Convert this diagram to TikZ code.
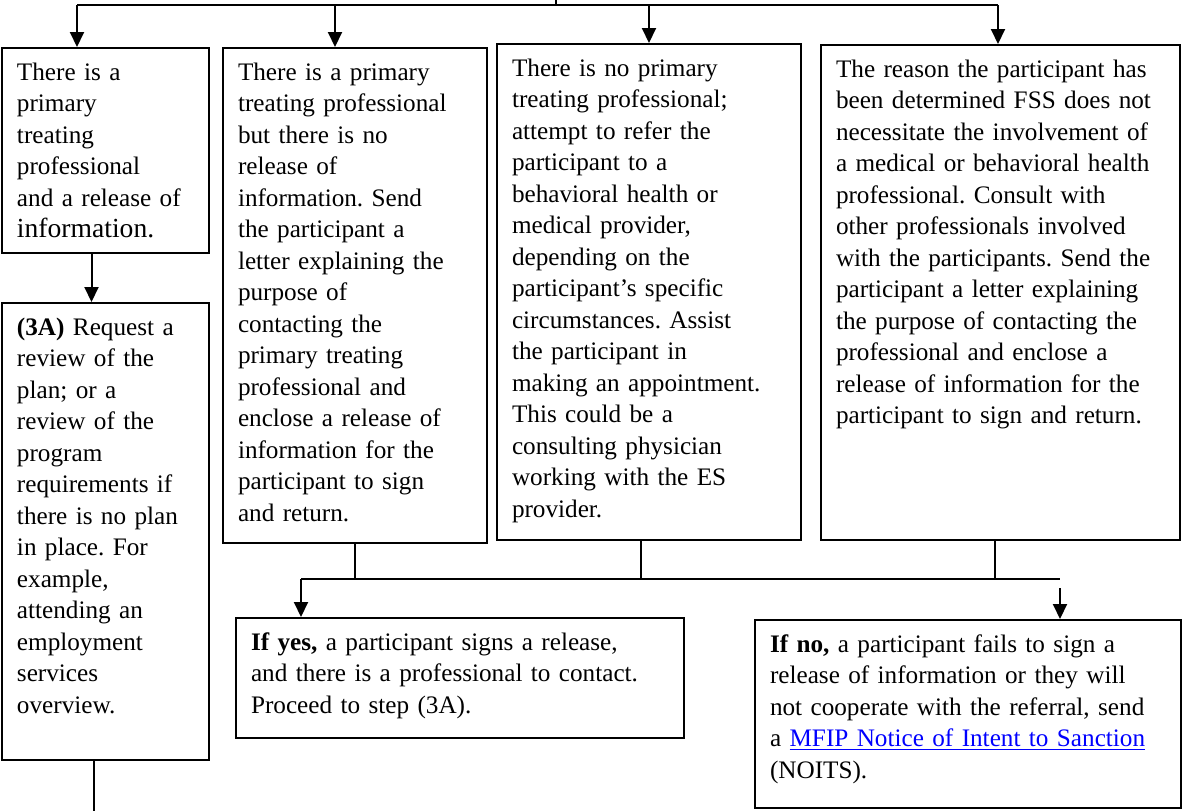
\documentclass[tikz,border=0pt]{standalone}
\usepackage{fontspec}
\setmainfont{Liberation Serif}
\usepackage{xcolor}
\definecolor{lineDark}{HTML}{000000}
\definecolor{linkBlue}{HTML}{0000FF}
\usepackage{tikz}
\usetikzlibrary{positioning,calc,arrows.meta}
\tikzset{%
  flowBox/.style={%
    rectangle,
    draw=lineDark,
    line width=1pt,
    fill=white,
    align=left,
    inner xsep=7.5pt,
    inner ysep=7.5pt,
    text height=8.5pt
  }
}

\begin{document}
\begin{tikzpicture}[x=0.5pt,y=-0.5pt,font=\fontsize{12.6}{15.75}\selectfont\frenchspacing]
    % Styles for connectors
    \tikzset{%
        arrowLine/.style={%
                -{Triangle[length=7.5pt,width=7pt]},
                line width=1pt,
                color=lineDark
            },
        busLine/.style={%
                line width=1pt,
                color=lineDark
            }
    }

    \useasboundingbox (0,0) rectangle (1185,810);

    % Top row of boxes
    \node[flowBox, anchor=north west, text width=88.5pt, text depth=79pt] (b1) at (1,47) {%
        There is a\\
        primary\\
        treating\\
        professional\\
        and a release of\\
        {\fontsize{13.8}{15.75}\selectfont information.}
    };

    \node[flowBox, anchor=north west, text width=117pt, text depth=224pt] (b2) at (222,47) {%
        There is a primary\\
        treating professional\\
        but there is no\\
        release of\\
        information. Send\\
        the participant a\\
        letter explaining the\\
        purpose of\\
        contacting the\\
        primary treating\\
        professional and\\
        enclose a release of\\
        information for the\\
        participant to sign\\
        and return.
    };

    \node[flowBox, anchor=north west, text width=137pt, text depth=224.5pt] (b3) at (496,43) {%
        There is no primary\\
        treating professional;\\
        attempt to refer the\\
        participant to a\\
        behavioral health or\\
        medical provider,\\
        depending on the\\
        participant’s specific\\
        circumstances. Assist\\
        the participant in\\
        making an appointment.\\
        This could be a\\
        consulting physician\\
        working with the ES\\
        provider.
    };

    \node[flowBox, anchor=north west, text width=164.5pt, text depth=224pt] (b4) at (820,44) {%
        The reason the participant has\\
        been determined FSS does not\\
        necessitate the involvement of\\
        a medical or behavioral health\\
        professional. Consult with\\
        other professionals involved\\
        with the participants. Send the\\
        participant a letter explaining\\
        the purpose of contacting the\\
        professional and enclose a\\
        release of information for the\\
        participant to sign and return.
    };

    % Step 3A under the first box
    \node[flowBox, below=24pt of b1, text width=88.5pt, text depth=205pt] (b1A) {%
        \textbf{(3A)} Request a\\
        review of the\\
        plan; or a\\
        review of the\\
        program\\
        requirements if\\
        there is no plan\\
        in place. For\\
        example,\\
        attending an\\
        employment\\
        services\\
        overview.
    };

    % Outcome boxes
    \node[flowBox, anchor=north west, text width=209pt, text depth=36.5pt] (yes) at (235,617) {%
        \textbf{If yes,} a participant signs a release,\\
        and there is a professional to contact.\\
        Proceed to step (3A).
    };

    \node[flowBox, anchor=north west, text width=198pt, text depth=70.5pt] (no) at (754,619) {%
        \textbf{If no,} a participant fails to sign a\\
        release of information or they will\\
        not cooperate with the referral, send\\
        a {\color{linkBlue}\underline{MFIP Notice of Intent to Sanction}}\\
        (NOITS).
    };

    % Top bus with arrows
    \coordinate (feed) at (556,0);
    \coordinate (busL) at (77,5);
    \coordinate (busR) at (998,5);

    \draw[busLine] (feed) -- (feed |- busL);
    \draw[busLine] (busL) -- (busR);
    \draw[arrowLine] (busL) -- (busL |- b1.north);
    \draw[arrowLine] ([xshift=-10pt]b2.north |- busL) -- ([xshift=-10pt]b2.north);
    \draw[arrowLine] (b3.north |- busL) -- (b3.north);
    \draw[arrowLine] (busR) -- (busR |- b4.north);

    \draw[arrowLine] ([xshift=-7pt]b1.south) -- ([xshift=-7pt]b1A.north);
    \draw[busLine] ([xshift=-6pt]b1A.south) -- ++(0,60);

    % Lower bus with arrows
    \coordinate (lowL) at (301,579);
    \coordinate (lowR) at (1060,579);

    \draw[busLine] (b2.south) -- (b2.south |- lowL);
    \draw[busLine] ([xshift=-4pt]b3.south) -- ([xshift=-4pt]b3.south |- lowL);
    \draw[busLine] ([xshift=-3pt]b4.south) -- ([xshift=-3pt]b4.south |- lowL);
    \draw[busLine] (lowL) -- (lowR);
    \draw[arrowLine] (lowL) -- (lowL |- yes.north);
    \draw[arrowLine] ([yshift=-4.5pt]lowR) -- (lowR |- no.north);
\end{tikzpicture}
\end{document}
